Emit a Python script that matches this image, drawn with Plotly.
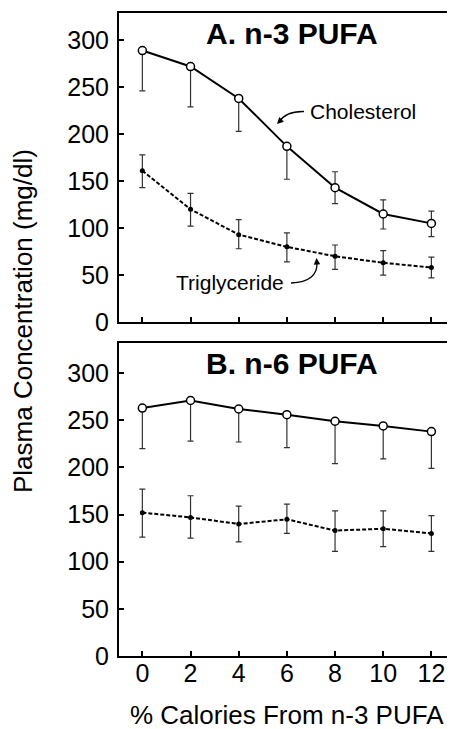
import plotly.graph_objects as go

# ---------------- data ----------------
x_pct = [0, 2, 4, 6, 8, 10, 12]
x_tick_labels = ["0", "2", "4", "6", "8", "10", "12"]
y_ticks = [0, 50, 100, 150, 200, 250, 300]

# Panel A: n-3 PUFA
chol_a = [289, 272, 238, 187, 143, 115, 105]
chol_a_plus = [0, 0, 0, 0, 17, 15, 13]
chol_a_minus = [43, 43, 35, 35, 17, 16, 14]
trig_a = [161, 120, 93, 80, 70, 63, 58]
trig_a_plus = [17, 17, 16, 15, 12, 13, 11]
trig_a_minus = [18, 18, 15, 16, 14, 13, 11]

# Panel B: n-6 PUFA
chol_b = [263, 271, 262, 256, 249, 244, 238]
chol_b_plus = [0, 0, 0, 0, 0, 0, 0]
chol_b_minus = [43, 43, 35, 35, 45, 35, 39]
trig_b = [152, 147, 140, 145, 133, 135, 130]
trig_b_plus = [25, 23, 19, 16, 21, 19, 19]
trig_b_minus = [26, 22, 19, 15, 22, 19, 19]

# ---------------- layout geometry ----------------
# the page body has an 8px margin, so the figure is drawn 8px smaller and
# all positions below are given in window pixels, then shifted by OFF.
OFF = 8
WIN_W, WIN_H = 455, 729
W, H = WIN_W - OFF, WIN_H - OFF
XR = [-0.97, 12.98]
YR_A = [0, 329]
YR_B = [0, 332]
# window-pixel positions of the plot areas
L_PX, R_PX = 119, 455
A_TOP, A_BOT = 13, 322
B_TOP, B_BOT = 343, 656
ML = L_PX - OFF
MR = 0
MT = A_TOP - OFF
MB = WIN_H - B_BOT
PH = H - MT - MB
dom_a = [(B_BOT - A_BOT) / PH, 1.0]
dom_b = [0.0, (B_BOT - B_TOP) / PH]

FONT = "Liberation Sans, Arial, Helvetica, sans-serif"


def px_x(px):
    return XR[0] + (px - L_PX) / (R_PX - L_PX) * (XR[1] - XR[0])


def py_a(py):
    return YR_A[0] + (A_BOT - py) / (A_BOT - A_TOP) * (YR_A[1] - YR_A[0])


def py_b(py):
    return YR_B[0] + (B_BOT - py) / (B_BOT - B_TOP) * (YR_B[1] - YR_B[0])


def paper_x(px):
    return (px - L_PX) / (R_PX - L_PX)


def paper_y(py):
    return (B_BOT - py) / PH


ERR = dict(color="#333333", thickness=1.2, width=3)

fig = go.Figure()


def add_pair(xa, ya, chol, cp, cm, trig, tp, tm):
    fig.add_trace(go.Scatter(
        x=x_pct, y=trig, xaxis=xa, yaxis=ya, mode="lines+markers",
        line=dict(color="black", width=2, dash="4px,2px"),
        marker=dict(color="black", size=5),
        error_y=dict(type="data", symmetric=False, array=tp, arrayminus=tm, **ERR),
        showlegend=False, cliponaxis=False))
    fig.add_trace(go.Scatter(
        x=x_pct, y=chol, xaxis=xa, yaxis=ya, mode="lines+markers",
        line=dict(color="black", width=2),
        marker=dict(color="white", size=8, line=dict(color="black", width=1.5)),
        error_y=dict(type="data", symmetric=False, array=cp, arrayminus=cm, **ERR),
        showlegend=False, cliponaxis=False))


add_pair("x", "y", chol_a, chol_a_plus, chol_a_minus, trig_a, trig_a_plus, trig_a_minus)
add_pair("x2", "y2", chol_b, chol_b_plus, chol_b_minus, trig_b, trig_b_plus, trig_b_minus)

xcommon = dict(range=XR, tickvals=x_pct, ticktext=x_tick_labels, ticks="inside",
               ticklen=5, tickwidth=1.5, tickcolor="black", showline=True,
               linecolor="black", linewidth=2, mirror=True, showgrid=False,
               zeroline=False, automargin=False,
               tickfont=dict(family=FONT, size=25, color="black"),
               ticklabelstandoff=-6)
ycommon = dict(tickvals=y_ticks, ticks="inside", ticklen=5, tickwidth=1.5,
               tickcolor="black", showline=True, linecolor="black", linewidth=2,
               mirror="ticks", showgrid=False, zeroline=False, automargin=False,
               tickfont=dict(family=FONT, size=25, color="black"),
               ticklabelstandoff=3)

fig.update_layout(
    template="none",
    width=W, height=H,
    margin=dict(l=ML, r=MR, t=MT, b=MB, autoexpand=False),
    paper_bgcolor="white", plot_bgcolor="white",
    font=dict(family=FONT, color="black"),
    showlegend=False,
    xaxis=dict(anchor="y", showticklabels=False, **xcommon),
    yaxis=dict(anchor="x", domain=dom_a, range=YR_A, **ycommon),
    xaxis2=dict(anchor="y2", showticklabels=True, **xcommon),
    yaxis2=dict(anchor="x2", domain=dom_b, range=YR_B, **ycommon),
)

C = dict(xanchor="center", yanchor="middle", showarrow=False)
ann = []
# panel titles
ann.append(dict(text="<b>A. n-3 PUFA</b>", x=px_x(292), y=py_a(33.5), xref="x", yref="y",
                font=dict(family=FONT, size=30, color="black"), **C))
ann.append(dict(text="<b>B. n-6 PUFA</b>", x=px_x(292), y=py_b(363), xref="x2", yref="y2",
                font=dict(family=FONT, size=30, color="black"), **C))
# series labels
ann.append(dict(text="Cholesterol", x=px_x(308), y=py_a(111), xref="x", yref="y",
                xanchor="left", yanchor="middle", showarrow=False,
                font=dict(family=FONT, size=21, color="black")))
ann.append(dict(text="Triglyceride", x=px_x(286), y=py_a(282), xref="x", yref="y",
                xanchor="right", yanchor="middle", showarrow=False,
                font=dict(family=FONT, size=21, color="black")))
# arrowheads
ann.append(dict(text="", x=px_x(277), y=py_a(124), xref="x", yref="y", showarrow=True,
                ax=4, ay=-4, arrowhead=2, arrowsize=1, arrowwidth=1.3, arrowcolor="black"))
ann.append(dict(text="", x=px_x(316.5), y=py_a(258), xref="x", yref="y", showarrow=True,
                ax=0.5, ay=6, arrowhead=2, arrowsize=1, arrowwidth=1.3, arrowcolor="black"))
# axis titles
ann.append(dict(text="% Calories From n-3 PUFA", x=paper_x(287), y=paper_y(715),
                xref="paper", yref="paper",
                font=dict(family=FONT, size=26, color="black"), **C))
ann.append(dict(text="Plasma Concentration (mg/dl)", x=paper_x(23), y=paper_y(321),
                xref="paper", yref="paper", textangle=-90,
                font=dict(family=FONT, size=26, color="black"), **C))
fig.update_layout(annotations=ann)

# curved arrow shafts
shapes = [
    dict(type="path", xref="x", yref="y",
         path=f"M {px_x(304)},{py_a(111.5)} Q {px_x(286)},{py_a(111)} {px_x(279)},{py_a(122)}",
         line=dict(color="black", width=1.3)),
    dict(type="path", xref="x", yref="y",
         path=f"M {px_x(291)},{py_a(283)} Q {px_x(318)},{py_a(282)} {px_x(317)},{py_a(262)}",
         line=dict(color="black", width=1.3)),
]
fig.update_layout(shapes=shapes)

fig.write_html("out.html")
